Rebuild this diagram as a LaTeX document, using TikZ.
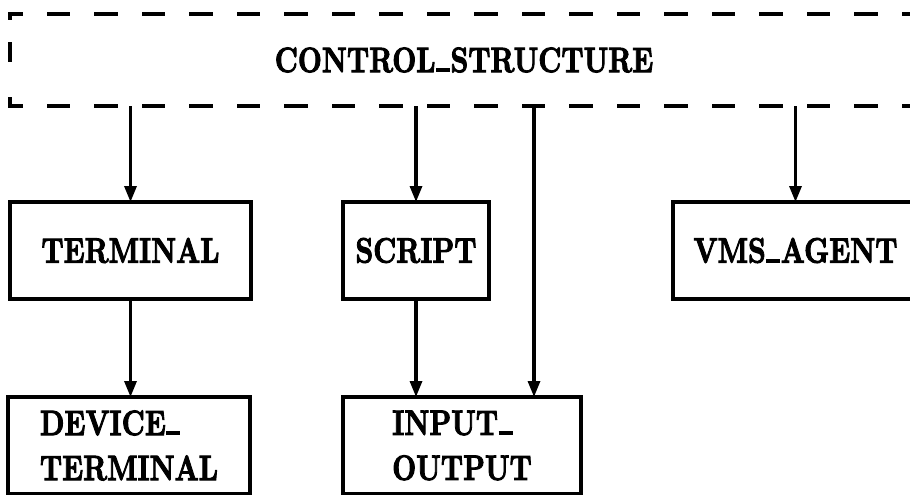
\documentclass[tikz,border=0pt]{standalone}
\usepackage{fontspec}
\usepackage{graphicx}
\usetikzlibrary{arrows.meta}

% heavy bold roman for all labels
\newfontfamily\heavyfont{lmroman10-bold.otf}[FakeBold=3]

% tall capitals and a baseline underscore bar
\newcommand\tallcaps[1]{\scalebox{1}[1.27]{#1}}
\newcommand\usc{\kern0.02em\rule{0.5em}{0.11em}\kern0.02em}
\newcommand\labelfont{\heavyfont\fontsize{27.8}{45}\selectfont}

\begin{document}
\begin{tikzpicture}[x=1pt,y=-1pt,
  box/.style={draw, line width=3.4pt, inner sep=0pt, outer sep=0pt,
              font=\labelfont, align=left, minimum height=97pt},
  arr/.style={line width=3.2pt, -{Triangle[length=16pt,width=12pt]}},
  dashedge/.style={line width=3.8pt, line cap=rect}]

\useasboundingbox (0,0) rectangle (910,495);
\clip (0,0) rectangle (910,495);

% dashed control frame (drawn edge by edge below)
\node[inner sep=0pt, outer sep=0pt, minimum width=908pt, minimum height=92pt,
      font=\labelfont] (ctrl) at (464,60) {\tallcaps{CONTROL\usc STRUCTURE}};

\draw[dashedge, dash pattern=on 19.5pt off 28pt, dash phase=8.75pt]
  (ctrl.north west) -- (ctrl.north east);
\draw[dashedge, dash pattern=on 19.5pt off 28pt, dash phase=8.75pt]
  (ctrl.south west) -- (ctrl.south east);
\draw[dashedge, dash pattern=on 4.5pt off 25.25pt on 16.5pt off 38.5pt on 20pt]
  (ctrl.north west) -- (ctrl.south west);
\draw[dashedge, dash pattern=on 4.5pt off 25.25pt on 16.5pt off 38.5pt on 20pt]
  (ctrl.north east) -- (ctrl.south east);

% module boxes
\node[box, minimum width=241pt] (term)   at (130.5,250.5) {\tallcaps{TERMINAL}};
\node[box, minimum width=146pt] (script) at (416,250.5)   {\tallcaps{SCRIPT}};
\node[box, minimum width=245pt] (vms)    at (795.5,250.5) {\tallcaps{VMS\usc AGENT}};
\node[box, minimum width=242pt] (dev)    at (129,445.5)
  {\tallcaps{DEVICE\usc}\\\tallcaps{TERMINAL}};
\node[box, minimum width=238pt] (io)     at (462,445.5)
  {\tallcaps{INPUT\usc}\\\tallcaps{OUTPUT}};

\coordinate (tap) at (534,0);

% connectors
\draw[arr] (ctrl.south -| term.north)   -- (term.north);
\draw[arr] (ctrl.south -| script.north) -- (script.north);
\draw[arr] (ctrl.south -| vms.north)    -- (vms.north);
\draw[arr] (ctrl.south -| tap)          -- (tap |- io.north);
\draw[arr] (term.south)   -- (term.south |- dev.north);
\draw[arr] (script.south) -- (script.south |- io.north);
\end{tikzpicture}
\end{document}
